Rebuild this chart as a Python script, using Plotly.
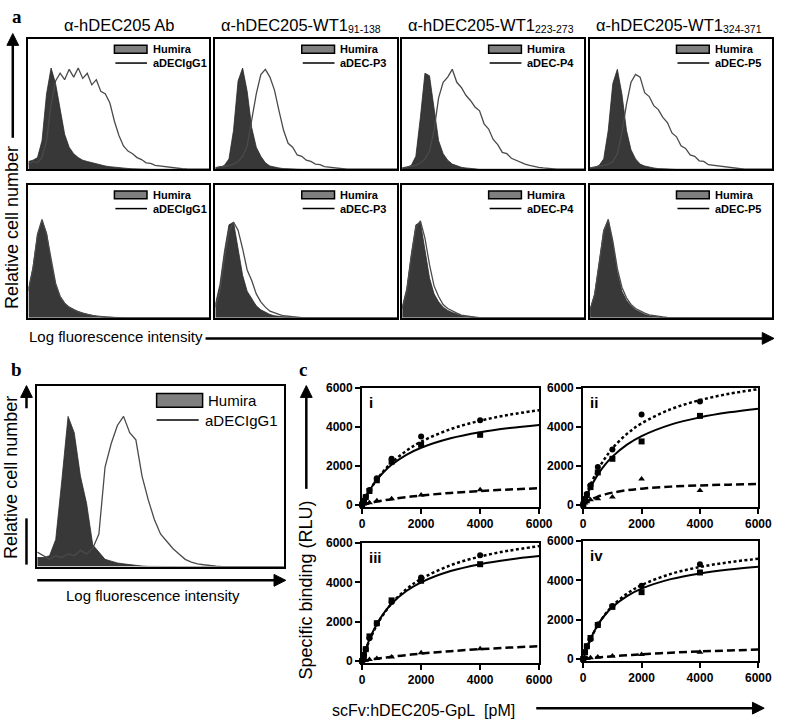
import plotly.graph_objects as go

# ---------------- data ----------------
HIST_X = [i * 2.5 for i in range(41)]  # relative fluorescence channel (0-100)

A_TITLES = ["α-hDEC205 Ab", "α-hDEC205-WT1", "α-hDEC205-WT1", "α-hDEC205-WT1"]
A_TITLE_SUBS = ["", "91-138", "223-273", "324-371"]
A_LEGEND = ["aDECIgG1", "aDEC-P3", "aDEC-P4", "aDEC-P5"]
CONTROL_NAME = "Humira"

A_TOP_HUMIRA = [
    [6, 7, 9, 22, 58, 78, 66, 45, 27, 17, 12, 9, 7, 6, 5, 4, 3, 2.5, 2, 1.5,
     1.2, 1, 0.6, 0.4, 0.2, 0, 0, 0, 0, 0, 0, 0, 0, 0, 0, 0, 0, 0, 0, 0, 0],
    [1, 1.5, 3, 8, 30, 68, 78, 60, 32, 17, 10, 5, 2.5, 1.5, 1, 0.5, 0.3, 0, 0, 0,
     0, 0, 0, 0, 0, 0, 0, 0, 0, 0, 0, 0, 0, 0, 0, 0, 0, 0, 0, 0, 0],
    [1, 1.5, 3, 10, 40, 74, 72, 45, 22, 12, 7, 4, 2.5, 1.5, 1, 0.5, 0.3, 0, 0, 0,
     0, 0, 0, 0, 0, 0, 0, 0, 0, 0, 0, 0, 0, 0, 0, 0, 0, 0, 0, 0, 0],
    [1, 1.5, 3, 8, 30, 66, 77, 58, 30, 15, 8, 4, 2.5, 1.5, 1, 0.5, 0.3, 0, 0, 0,
     0, 0, 0, 0, 0, 0, 0, 0, 0, 0, 0, 0, 0, 0, 0, 0, 0, 0, 0, 0, 0],
]
A_TOP_ANTIBODY = [
    [4, 6, 5, 9, 22, 50, 68, 74, 69, 77, 71, 78, 70, 74, 65, 69, 60, 58, 51, 37,
     26, 18, 14, 12, 9, 7.5, 5, 4.5, 3, 2.5, 2, 1.5, 1, 0.7, 0.4, 0.2, 0, 0, 0, 0, 0],
    [1, 2, 2, 3, 4, 6, 10, 18, 38, 58, 73, 77, 71, 61, 45, 30, 20, 17, 11, 10,
     7, 6, 4, 3.5, 2, 1.5, 1, 0.6, 0.3, 0, 0, 0, 0, 0, 0, 0, 0, 0, 0, 0, 0],
    [1, 1.5, 2, 3, 5, 8, 14, 30, 55, 67, 71, 77, 67, 63, 57, 53, 48, 45, 35, 31,
     23, 19, 13, 12, 8.5, 7, 5, 4, 3, 2, 1.5, 1, 0.5, 0.2, 0, 0, 0, 0, 0, 0, 0],
    [1, 1.5, 2, 3, 4, 6, 12, 28, 50, 67, 73, 71, 59, 56, 49, 46, 40, 36, 28, 25,
     18, 16, 11, 10, 6.5, 6, 3.5, 3, 2.5, 2, 1.5, 1, 0.6, 0.3, 0, 0, 0, 0, 0, 0, 0],
]
A_BOT_HUMIRA = [
    [22, 38, 62, 73, 64, 42, 25, 16, 11, 8, 6, 4.5, 3.5, 2.5, 1.8, 1.2, 0.8, 0.5, 0.3, 0.1,
     0, 0, 0, 0, 0, 0, 0, 0, 0, 0, 0, 0, 0, 0, 0, 0, 0, 0, 0, 0, 0],
    [10, 25, 50, 70, 72, 52, 32, 20, 14, 9, 6, 4, 2.5, 1.5, 1, 0.6, 0.3, 0.1, 0, 0,
     0, 0, 0, 0, 0, 0, 0, 0, 0, 0, 0, 0, 0, 0, 0, 0, 0, 0, 0, 0, 0],
    [8, 22, 48, 70, 72, 50, 30, 18, 12, 8, 5.5, 4, 2.5, 1.5, 1, 0.6, 0.3, 0.1, 0, 0,
     0, 0, 0, 0, 0, 0, 0, 0, 0, 0, 0, 0, 0, 0, 0, 0, 0, 0, 0, 0, 0],
    [6, 18, 42, 66, 74, 56, 34, 20, 13, 9, 6, 4, 2.5, 1.5, 1, 0.6, 0.3, 0.1, 0, 0,
     0, 0, 0, 0, 0, 0, 0, 0, 0, 0, 0, 0, 0, 0, 0, 0, 0, 0, 0, 0, 0],
]
A_BOT_ANTIBODY = [
    [20, 37, 63, 74, 63, 43, 26, 16, 11, 8, 6, 4.5, 3.5, 2.5, 1.8, 1.2, 0.8, 0.5, 0.3, 0.1,
     0, 0, 0, 0, 0, 0, 0, 0, 0, 0, 0, 0, 0, 0, 0, 0, 0, 0, 0, 0, 0],
    [8, 20, 45, 65, 72, 66, 52, 36, 28, 18, 12, 8, 5, 3.5, 2.5, 1.5, 1, 0.5, 0.2, 0,
     0, 0, 0, 0, 0, 0, 0, 0, 0, 0, 0, 0, 0, 0, 0, 0, 0, 0, 0, 0, 0],
    [7, 20, 46, 68, 73, 60, 40, 24, 16, 10, 7, 5, 3.5, 2, 1.3, 0.8, 0.4, 0.1, 0, 0,
     0, 0, 0, 0, 0, 0, 0, 0, 0, 0, 0, 0, 0, 0, 0, 0, 0, 0, 0, 0, 0],
    [6, 17, 40, 65, 74, 58, 37, 23, 15, 10, 7, 5, 3.5, 2.2, 1.5, 1, 0.6, 0.3, 0.1, 0,
     0, 0, 0, 0, 0, 0, 0, 0, 0, 0, 0, 0, 0, 0, 0, 0, 0, 0, 0, 0, 0],
]

B_HUMIRA = [5, 5, 6, 15, 48, 83, 74, 50, 35, 12, 8, 4, 3, 2, 1.5, 1, 0.6, 0.3, 0.1, 0,
            0, 0, 0, 0, 0, 0, 0, 0, 0, 0, 0, 0, 0, 0, 0, 0, 0, 0, 0, 0, 0]
B_ANTIBODY = [8, 6, 4, 6, 5, 7, 6, 9, 7, 10, 18, 55, 68, 78, 83, 74, 70, 50, 37, 26,
              18, 14, 10, 7, 4, 2.5, 1.5, 1, 0.5, 0.2, 0, 0, 0, 0, 0, 0, 0, 0, 0, 0, 0]

C_LABELS = ["i", "ii", "iii", "iv"]
C_TICKS = [0, 2000, 4000, 6000]
C_POINT_X = [0, 62.5, 125, 250, 500, 1000, 2000, 4000]
C_SQUARES = [
    [0, 180, 380, 700, 1250, 2200, 3070, 3580],
    [0, 250, 480, 900, 1650, 2350, 3240, 4550],
    [0, 300, 600, 1250, 1920, 3080, 4080, 4920],
    [0, 350, 650, 1070, 1730, 2650, 3400, 4400],
]
C_CIRCLES = [
    [0, 200, 400, 750, 1350, 2350, 3490, 4330],
    [0, 300, 550, 1000, 1930, 2820, 4620, 5290],
    [0, 300, 600, 1150, 1900, 3000, 4250, 5380],
    [0, 330, 640, 1000, 1750, 2700, 3730, 4820],
]
C_TRIANGLES = [
    [0, 30, 60, 100, 200, 300, 500, 760],
    [0, 80, 150, 250, 300, 390, 1310, 720],
    [0, 20, 40, 80, 120, 200, 420, 620],
    [0, 20, 40, 60, 100, 150, 230, 350],
]
C_FIT_X = [0, 125, 250, 500, 750, 1000, 1500, 2000, 3000, 4000, 5000, 6000]
C_FIT_SOLID = [
    [0, 392, 729, 1275, 1700, 2040, 2550, 2914, 3400, 3709, 3923, 4080],
    [0, 473, 879, 1538, 2050, 2460, 3075, 3514, 4100, 4473, 4731, 4920],
    [0, 604, 1103, 1882, 2462, 2909, 3556, 4000, 4571, 4923, 5161, 5333],
    [0, 566, 1028, 1734, 2250, 2643, 3202, 3581, 4061, 4353, 4549, 4690],
]
C_FIT_DOTTED = [
    [0, 379, 717, 1290, 1760, 2150, 2760, 3225, 3870, 4300, 4610, 4840],
    [0, 543, 1014, 1786, 2383, 2885, 3629, 4167, 4891, 5357, 5682, 5921],
    [0, 562, 1043, 1825, 2433, 2920, 3650, 4171, 4867, 5309, 5615, 5840],
    [0, 544, 1000, 1722, 2268, 2696, 3321, 3758, 4326, 4679, 4921, 5096],
]
C_FIT_DASHED = [
    [0, 42, 82, 156, 221, 280, 382, 467, 600, 700, 778, 840],
    [0, 137, 246, 410, 527, 615, 738, 820, 923, 984, 1025, 1054],
    [0, 31, 60, 115, 167, 214, 300, 375, 500, 600, 682, 750],
    [0, 20, 38, 74, 107, 137, 192, 240, 320, 384, 436, 480],
]

# ---------------- layout helpers ----------------
W, H = 788, 724
SANS = "Liberation Sans, Arial, sans-serif"
SERIF = "Liberation Serif, Times New Roman, serif"
FILL_DARK = "#383838"
LINE_OPEN = "#4a4a4a"


def px(x):
    return x / W


def py(y):
    return 1 - y / H


fig = go.Figure()
layout_axes = {}
shapes = []
annotations = []


def ax_ids(n):
    return ("x" if n == 1 else f"x{n}", "y" if n == 1 else f"y{n}")


def add_axes(n, xr, yr, xcfg, ycfg):
    xid, yid = ax_ids(n)
    layout_axes["xaxis" if n == 1 else f"xaxis{n}"] = dict(
        domain=[px(xr[0]), px(xr[1])], anchor=yid, **xcfg)
    layout_axes["yaxis" if n == 1 else f"yaxis{n}"] = dict(
        domain=[py(yr[1]), py(yr[0])], anchor=xid, **ycfg)
    return xid, yid


box_cfg = dict(range=[0, 100], showline=True, mirror=True, linewidth=2.2,
               linecolor="black", showticklabels=False, ticks="", showgrid=False,
               zeroline=False, fixedrange=True)


def text(x, y, s, size, family=SANS, angle=0, xanchor="center", weight="normal", color="black"):
    annotations.append(dict(x=px(x), y=py(y), xref="paper", yref="paper", text=s,
                            showarrow=False, textangle=angle, xanchor=xanchor,
                            yanchor="middle", borderpad=0,
                            font=dict(family=family, size=size, color=color, weight=weight)))


def line(x0, y0, x1, y1, w=2.5, color="black"):
    shapes.append(dict(type="line", xref="paper", yref="paper", x0=px(x0), y0=py(y0),
                       x1=px(x1), y1=py(y1), line=dict(color=color, width=w)))


def head(tx, ty, direction, length=12, half=6):
    if direction == "right":
        pts = [(tx, ty), (tx - length, ty - half), (tx - length, ty + half)]
    else:  # up
        pts = [(tx, ty), (tx - half, ty + length), (tx + half, ty + length)]
    path = "M " + " L ".join(f"{px(a):.5f},{py(b):.5f}" for a, b in pts) + " Z"
    shapes.append(dict(type="path", xref="paper", yref="paper", path=path,
                       fillcolor="black", line=dict(color="black", width=1)))


def hist_legend(L, R, T, name, size=11, rect=(0.475, 0.655), dy=(6, 14), ly=24, tx=0.68,
                weight="bold"):
    w = R - L
    shapes.append(dict(type="rect", xref="paper", yref="paper",
                       x0=px(L + rect[0] * w), x1=px(L + rect[1] * w),
                       y0=py(T + dy[1]), y1=py(T + dy[0]),
                       fillcolor="#7f7f7f", line=dict(color="black", width=1.5)))
    line(L + rect[0] * w + 1, T + ly, L + rect[1] * w, T + ly, w=1.5)
    text(L + tx * w, T + (dy[0] + dy[1]) / 2, CONTROL_NAME, size, xanchor="left", weight=weight)
    text(L + tx * w, T + ly, name, size, xanchor="left", weight=weight)


# ---------------- panel a ----------------
A_COLS = [(26, 211), (217, 403), (408, 594), (600, 786)]
A_ROWS = [(33, 165), (181, 316)]
n = 0
for r, (T, B) in enumerate(A_ROWS):
    hum_sets = A_TOP_HUMIRA if r == 0 else A_BOT_HUMIRA
    ab_sets = A_TOP_ANTIBODY if r == 0 else A_BOT_ANTIBODY
    for c, (L, R) in enumerate(A_COLS):
        n += 1
        xid, yid = add_axes(n, (L, R), (T, B), box_cfg, box_cfg)
        fig.add_trace(go.Scatter(x=HIST_X, y=hum_sets[c], xaxis=xid, yaxis=yid,
                                 mode="lines", fill="tozeroy", fillcolor=FILL_DARK,
                                 line=dict(color="#2a2a2a", width=0.8)))
        fig.add_trace(go.Scatter(x=HIST_X, y=ab_sets[c], xaxis=xid, yaxis=yid,
                                 mode="lines", line=dict(color=LINE_OPEN, width=1.3)))
        hist_legend(L, R, T, A_LEGEND[c])

for c, (L, R) in enumerate(A_COLS):
    mid = (L + R) / 2
    if A_TITLE_SUBS[c]:
        split = mid + 44
        text(split, 18, A_TITLES[c], 16.5, xanchor="right")
        text(split - 2.5, 22, A_TITLE_SUBS[c], 10.5, xanchor="left")
    else:
        text(mid, 18, A_TITLES[c], 16.5)

text(14, 10, "a", 19, family=SERIF, weight="bold")
text(9, 224, "Relative cell number", 18, angle=-90)
line(10, 133, 10, 38, w=2.5)
head(10, 27, "up")
text(116, 335, "Log fluorescence intensity", 15)
line(207, 337, 776, 337, w=2.5)
head(788, 337, "right")

# ---------------- panel b ----------------
n += 1
bL, bR, bT, bB = 35, 287, 385, 569
xid, yid = add_axes(n, (bL, bR), (bT, bB), box_cfg, box_cfg)
fig.add_trace(go.Scatter(x=HIST_X, y=B_HUMIRA, xaxis=xid, yaxis=yid, mode="lines",
                         fill="tozeroy", fillcolor=FILL_DARK,
                         line=dict(color="#2a2a2a", width=0.8)))
fig.add_trace(go.Scatter(x=HIST_X, y=B_ANTIBODY, xaxis=xid, yaxis=yid, mode="lines",
                         line=dict(color=LINE_OPEN, width=1.3)))
shapes.append(dict(type="rect", xref="paper", yref="paper", x0=px(157), x1=px(204),
                   y0=py(407), y1=py(393), fillcolor="#7f7f7f",
                   line=dict(color="black", width=1.5)))
line(157, 420, 200, 420, w=1.5)
text(208, 400, CONTROL_NAME, 15, xanchor="left")
text(205, 420, A_LEGEND[0], 15, xanchor="left")

text(14, 369, "b", 19, family=SERIF, weight="bold")
text(8, 478, "Relative cell number", 18, angle=-90)
line(24, 408, 24, 395, w=2.5)
head(24, 385, "up")
line(24, 520, 24, 567, w=2.5)
text(153, 598, "Log fluorescence intensity", 15)
line(35, 583, 277, 583, w=2.5)
head(289, 583, "right")

# ---------------- panel c ----------------
C_BOXES = [((367, 548), (387, 508)), ((593, 772), (387, 508)),
           ((367, 548), (545, 667)), ((593, 772), (543, 665))]
tick_font = dict(family=SANS, size=12, color="black", weight="bold")
cx_cfg = dict(range=[0, 6000], tickvals=C_TICKS, ticks="outside", ticklen=5, tickwidth=2,
              tickcolor="black", tickfont=tick_font, showline=True, mirror=True,
              linewidth=2, linecolor="black", showgrid=False, zeroline=False,
              fixedrange=True)
cy_cfg = dict(range=[-100, 6000], tickvals=C_TICKS, ticks="outside", ticklen=5,
              tickwidth=2, tickcolor="black", tickfont=tick_font, showline=True,
              mirror=True, linewidth=2, linecolor="black", showgrid=False,
              zeroline=False, fixedrange=True)

for k, ((L, R), (T, B)) in enumerate(C_BOXES):
    n += 1
    xid, yid = add_axes(n, (L, R), (T, B), cx_cfg, cy_cfg)
    fig.add_trace(go.Scatter(x=C_FIT_X, y=C_FIT_DASHED[k], xaxis=xid, yaxis=yid,
                             mode="lines", line=dict(color="black", width=2.5,
                                                     dash="8px,4px", shape="spline")))
    fig.add_trace(go.Scatter(x=C_FIT_X, y=C_FIT_DOTTED[k], xaxis=xid, yaxis=yid,
                             mode="lines", line=dict(color="black", width=2.5,
                                                     dash="3px,2.5px", shape="spline")))
    fig.add_trace(go.Scatter(x=C_FIT_X, y=C_FIT_SOLID[k], xaxis=xid, yaxis=yid,
                             mode="lines", line=dict(color="black", width=2,
                                                     shape="spline")))
    for ys, sym in ((C_SQUARES[k], "square"), (C_CIRCLES[k], "circle"),
                    (C_TRIANGLES[k], "triangle-up")):
        fig.add_trace(go.Scatter(x=C_POINT_X, y=ys, xaxis=xid, yaxis=yid, mode="markers",
                                 cliponaxis=False,
                                 marker=dict(symbol=sym, size=6, color="black")))
    text(L + 6, T + 15, C_LABELS[k], 15, xanchor="left", weight="bold")

text(307, 369, "c", 19, family=SERIF, weight="bold")
text(310, 593, "Specific binding (RLU)", 18, angle=-90)
line(310, 490, 310, 396, w=2.5)
head(310, 385, "up")
text(430, 715, "scFv:hDEC205-GpL&nbsp; [pM]", 16)
line(545, 713, 766, 713, w=2.5)
head(778, 713, "right")

fig.update_layout(width=W, height=H, margin=dict(l=0, r=0, t=0, b=0),
                  paper_bgcolor="white", plot_bgcolor="rgba(0,0,0,0)",
                  showlegend=False, shapes=shapes, annotations=annotations,
                  **layout_axes)

fig.write_html("out.html", config={"displayModeBar": False},
               post_script="document.body.style.margin='0';document.body.style.padding='0';")
